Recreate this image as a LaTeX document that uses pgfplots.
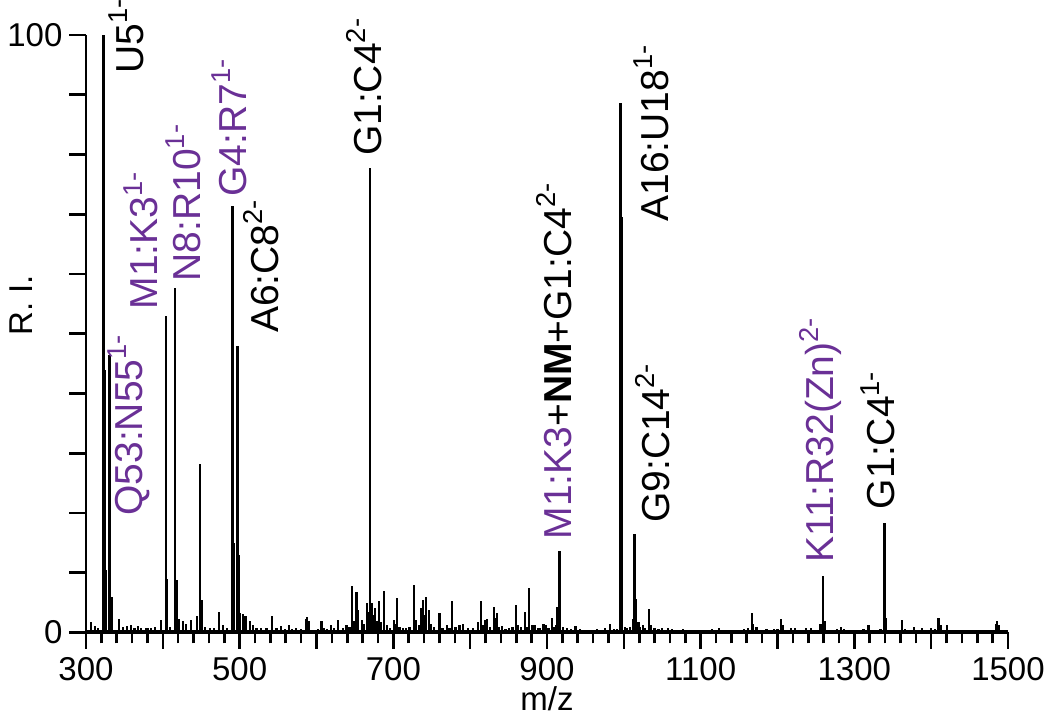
\documentclass[border=0pt]{standalone}
\usepackage{fontspec}
\setmainfont{Liberation Sans}
\usepackage{pgfplots}
\usepackage{pgfplotstable}
\pgfplotsset{compat=1.18}
\definecolor{labpurple}{RGB}{106,48,150}
\newcommand{\chg}[1]{\textsuperscript{#1}}

% main peaks (m/z, relative intensity)
\pgfplotstableread{
mz      ri
322.5   100
324     44
325.5   10.5
330.5   46.5
333     6
404     53
405.5   9
416     57.6
417.5   8.8
448.5   28.2
450     5.5
491     71.4
492.5   15
497     48
498.5   13
669.5   77.8
671     5
914     4.3
916.5   13.6
996     88.7
997.5   69.5
1012    2.2
1014    16.5
1015.5  5.6
1256    1.5
1259    9.4
1261    2.0
1339.5  18.3
1341    2.5
}\peaks

% small peaks and noise
\pgfplotstableread{
mz      ri
307     1.8
312     1.1
316     0.8
343     2.3
348     0.9
353     1.1
359     1.2
363     0.8
368     1.1
372     0.8
378     0.8
381     0.7
385     0.8
390     0.9
397.5   2.1
409     0.9
420.5   2.3
426.5   1.9
430     1.5
437     2.1
444     2.8
455     0.9
461     0.7
467     0.7
473     3.4
478.5   1.2
484     0.8
500.5   3.2
504.5   3.1
507.5   2.7
513     2.0
517     1.2
522     0.8
528     0.8
535     0.7
542.5   2.8
548     0.7
553.5   1.1
559     0.6
564     1.2
568     0.6
573     0.7
580     0.6
586     2.2
588     2.6
590     2.0
596.8   0.5
602     0.6
606.4   2.0
609     0.8
614     0.6
618.5   1.3
623     0.7
628     2.1
634     0.7
639     1.3
643     1.0
646     7.7
649     2.0
652     6.8
654     3.8
659     2.1
662     1.5
665.7   5.0
667     3.5
672.7   4.9
674.5   3.0
676     4.1
678.5   2.0
681     5.3
684     1.8
688.3   7.0
692     1.2
696     0.8
700.4   2.1
703     1.5
705     5.8
708     1.0
712.5   0.7
717     0.8
721     0.9
726.8   7.9
730     2.1
733     1.2
736.4   4.1
738.6   5.5
741     3.0
743     5.9
746     3.8
749     1.5
753     0.9
760     3.3
764     0.8
769.7   1.2
773     0.7
776.7   5.3
781     0.9
786     1.3
791     1.4
797     0.7
803.6   0.8
810     1.8
814.4   5.2
817     1.2
820     2.1
821.7   2.2
826     0.9
830.8   4.3
832.5   2.5
834.7   3.2
838     0.9
841.7   1.1
846     0.6
850.3   0.7
855     0.9
860     4.6
862     1.2
866.4   0.9
871.6   3.4
874     1.0
877     7.4
880     1.2
883.7   1.3
888     0.7
891     0.8
895.4   1.5
899     1.2
902     0.8
906.7   2.4
909     1.0
912     1.2
921     1.0
926     0.7
931     0.6
937     1.1
943     0.6
951     0.5
958     0.5
965     0.6
970     0.5
975.6   0.7
982.5   1.5
987     0.6
991     0.6
1001    1.0
1004    0.8
1008    1.0
1019    1.8
1021    1.0
1025.4  1.2
1028    0.7
1032.3  3.9
1035    1.2
1040    0.7
1045    0.6
1050    0.7
1057    0.8
1063    0.6
1070    0.5
1076.6  0.6
1083    0.5
1090    0.5
1097    0.5
1107    0.5
1115    0.6
1124    0.7
1131    0.5
1140    0.5
1148    0.5
1156.7  0.6
1162    0.7
1166.5  3.2
1168.5  1.5
1172.7  0.9
1178    0.5
1185.7  0.6
1191    0.5
1195.7  0.6
1200    0.6
1204.5  2.2
1206.5  1.2
1212    0.5
1217.4  0.7
1222.6  0.7
1229    0.5
1236.9  0.7
1243.4  0.7
1249    0.5
1265    0.5
1271.5  0.5
1277    0.6
1282.4  0.9
1287    0.6
1293    0.5
1300    0.5
1306    0.5
1312    0.6
1318.4  1.3
1324    0.5
1328    0.5
1334    0.6
1346    0.5
1352    0.5
1361.7  2.1
1366    0.6
1371    0.5
1377.7  0.9
1383    0.5
1388.5  0.7
1394    0.5
1399.4  0.8
1405    0.6
1409.5  2.4
1413    1.2
1421    1.2
1428    0.5
1435    0.5
1442    0.4
1449    0.4
1456    0.4
1466.5  0.4
1474    0.4
1480    0.5
1484    1.5
1486    2.0
1488    1.2
1493    0.4
}\noise

\begin{document}
\begin{tikzpicture}[
    lab/.style={rotate=90, anchor=base west, inner sep=0pt,
      font=\fontsize{19.5}{20}\selectfont}
  ]
  \begin{axis}[
      name=ms,
      scale only axis,
      width=461pt, height=298.75pt,
      xmin=300, xmax=1500, ymin=0, ymax=100,
      axis x line=bottom, axis y line=left,
      axis line style={-, line width=1.4pt},
      xtick={300,400,...,1500},
      xticklabels={300,,500,,700,,900,,1100,,1300,,1500},
      minor xtick={300,320,...,1500},
      ytick={0,10,...,100},
      yticklabels={0,,,,,,,,,,100},
      tick align=outside,
      major tick length=8.25pt,
      minor tick length=5.5pt,
      every tick/.style={black, line width=1.3pt},
      tick label style={font=\fontsize{16.5}{18}\selectfont},
      xticklabel style={yshift=-0.5pt},
      xlabel={m/z}, ylabel={R. I.},
      label style={font=\fontsize{16.5}{18}\selectfont},
      xlabel style={at={(axis description cs:0.5,-0.131)}, anchor=base},
      ylabel style={at={(axis description cs:-0.0575,0.548)}, anchor=base},
      clip=false,
    ]
    \addplot[black, line width=0.8pt, no marks] coordinates {(300,0.35) (1500,0.35)};
    \addplot[ycomb, no marks, black, line width=1.1pt] table[x=mz, y=ri] {\noise};
    \addplot[ycomb, no marks, black, line width=1.3pt] table[x=mz, y=ri] {\peaks};

    \node[lab] at (axis cs:374.2,93.5) {U5\chg{1-}};
    \node[lab, text=labpurple] at (axis cs:372.9,19.5) {Q53:N55\chg{1-}};
    \node[lab, text=labpurple] at (axis cs:393.7,54.0) {M1:K3\chg{1-}};
    \node[lab, text=labpurple] at (axis cs:448.4,58.7) {N8:R10\chg{1-}};
    \node[lab, text=labpurple] at (axis cs:508.3,72.9) {G4:R7\chg{1-}};
    \node[lab] at (axis cs:549.9,50.1) {A6:C8\chg{2-}};
    \node[lab] at (axis cs:684,79.7) {G1:C4\chg{2-}};
    \node[lab] at (axis cs:931.3,15.5) {{\color{labpurple}M1:K3}+\textbf{NM}+G1:C4\chg{2-}};
    \node[lab] at (axis cs:1057.5,68.7) {A16:U18\chg{1-}};
    \node[lab] at (axis cs:1060,18.3) {G9:C14\chg{2-}};
    \node[lab, text=labpurple] at (axis cs:1273.5,11.6) {K11:R32(Zn)\chg{2-}};
    \node[lab] at (axis cs:1352.9,20.6) {G1:C4\chg{1-}};
  \end{axis}
  \pgfresetboundingbox
  \path[use as bounding box] ([xshift=-43pt,yshift=-42.25pt]ms.south west)
    rectangle ([xshift=21pt,yshift=17.5pt]ms.north east);
\end{tikzpicture}
\end{document}
